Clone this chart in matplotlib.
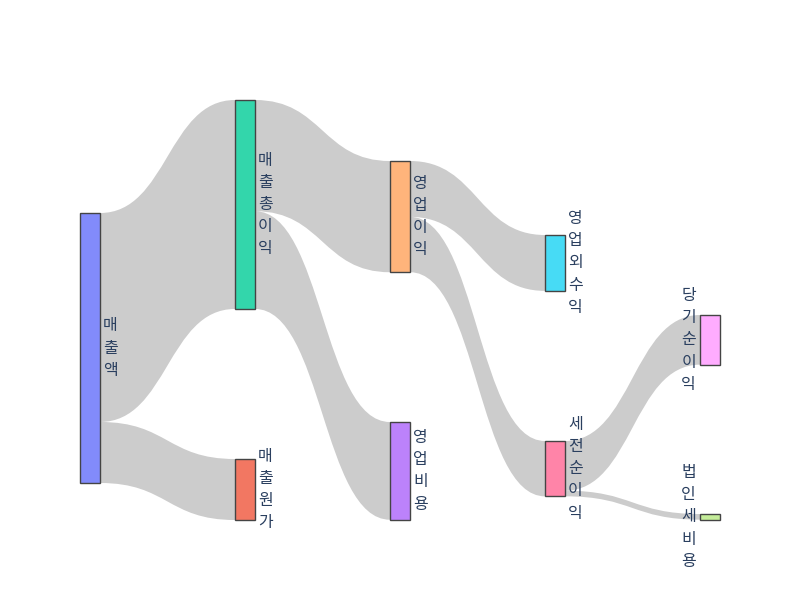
import matplotlib
matplotlib.use("Agg")
import matplotlib.pyplot as plt
from matplotlib.path import Path
from matplotlib.patches import PathPatch, Rectangle

plt.rcParams['font.family'] = ['Noto Sans CJK KR', 'DejaVu Sans']

# data
node_labels = ["매출액", "매출원가", "매출총이익", "영업비용", "영업이익",
               "영업외수익", "세전순이익", "법인세비용", "당기순이익"]
link_source = [0, 0, 2, 2, 4, 4, 6, 6]
link_target = [2, 1, 4, 3, 5, 6, 8, 7]
link_value = [774, 226, 412, 362, 207, 205, 184, 21]

# colours (plotly default colorway, nodes drawn at 0.8 opacity)
node_colors = ["#636efa", "#EF553B", "#00cc96", "#ab63fa", "#FFA15A",
               "#19d3f3", "#FF6692", "#B6E880", "#FF97FF"]

# layout in pixels: column of each node and top edge of each node
col_x = [80, 235, 390, 545, 700]
node_col = [0, 1, 1, 2, 2, 3, 3, 4, 4]
node_top = [213, 459, 100, 422, 161, 235, 441, 514, 315]
node_w = 20
px_per_unit = 0.27

n = len(node_labels)
inflow = [0] * n
outflow = [0] * n
for s, t, v in zip(link_source, link_target, link_value):
    outflow[s] += v
    inflow[t] += v
node_h = [max(inflow[i], outflow[i]) * px_per_unit for i in range(n)]
node_center = [node_top[i] + node_h[i] / 2 for i in range(n)]

fig = plt.figure(figsize=(8, 6), dpi=100)
ax = fig.add_axes([0, 0, 1, 1])
ax.set_xlim(0, 800)
ax.set_ylim(600, 0)
ax.axis('off')

# links, stacked in each node sorted by the other end's position
out_off = {i: node_top[i] for i in range(n)}
in_off = {i: node_top[i] for i in range(n)}
order = sorted(range(len(link_value)),
               key=lambda k: (link_source[k], node_center[link_target[k]]))
src_pos = {}
for k in order:
    s = link_source[k]
    h = link_value[k] * px_per_unit
    src_pos[k] = (out_off[s], out_off[s] + h)
    out_off[s] += h
order_in = sorted(range(len(link_value)),
                  key=lambda k: (link_target[k], node_center[link_source[k]]))
tgt_pos = {}
for k in order_in:
    t = link_target[k]
    h = link_value[k] * px_per_unit
    tgt_pos[k] = (in_off[t], in_off[t] + h)
    in_off[t] += h

for k in range(len(link_value)):
    s, t = link_source[k], link_target[k]
    x0 = col_x[node_col[s]] + node_w
    x1 = col_x[node_col[t]]
    xm = (x0 + x1) / 2
    y0a, y0b = src_pos[k]
    y1a, y1b = tgt_pos[k]
    verts = [(x0, y0a), (xm, y0a), (xm, y1a), (x1, y1a),
             (x1, y1b), (xm, y1b), (xm, y0b), (x0, y0b), (x0, y0a)]
    codes = [Path.MOVETO, Path.CURVE4, Path.CURVE4, Path.CURVE4,
             Path.LINETO, Path.CURVE4, Path.CURVE4, Path.CURVE4, Path.CLOSEPOLY]
    ax.add_patch(PathPatch(Path(verts, codes), facecolor=(0, 0, 0, 0.2),
                           edgecolor='none', zorder=1))

# nodes and labels
last_col = max(node_col)
for i in range(n):
    x = col_x[node_col[i]]
    ax.add_patch(Rectangle((x, node_top[i]), node_w, node_h[i],
                           facecolor=node_colors[i], alpha=0.8,
                           edgecolor='none', zorder=2))
    ax.add_patch(Rectangle((x, node_top[i]), node_w, node_h[i],
                           facecolor='none', edgecolor='#444444',
                           linewidth=1.0, zorder=3))
    text = "\n".join(node_labels[i])
    if node_col[i] == last_col:
        ax.text(x - 4, node_center[i], text, ha='right', va='center',
                multialignment='center', fontsize=11.5, color='#2a3f5f',
                linespacing=1.4, zorder=4)
    else:
        ax.text(x + node_w + 3, node_center[i], text, ha='left', va='center',
                multialignment='center', fontsize=11.5, color='#2a3f5f',
                linespacing=1.4, zorder=4)

fig.savefig("out.png", dpi=100)
